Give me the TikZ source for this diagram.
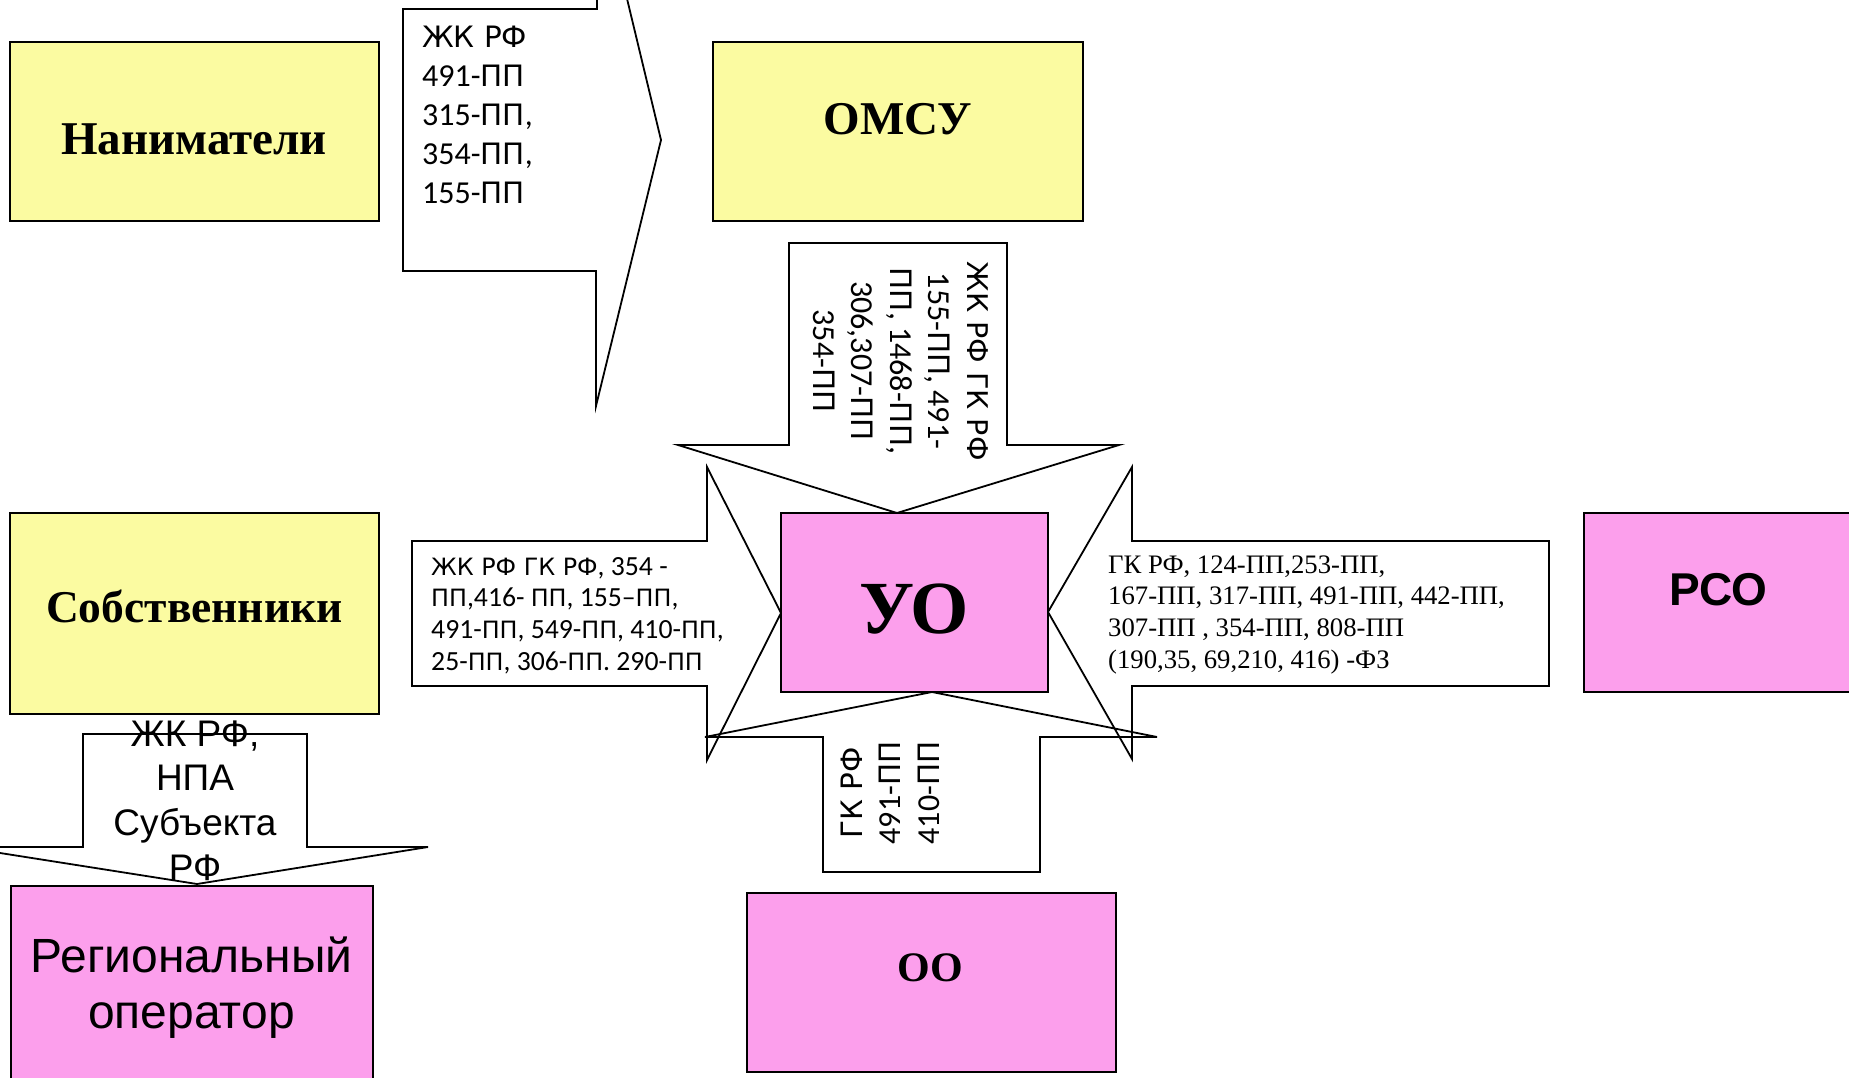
\documentclass[tikz,border=0pt]{standalone}
\usepackage{fontspec}
\setmainfont{Liberation Serif}
\newfontfamily\carl{Carlito}
\newfontfamily\dvu[Scale=0.92]{DejaVu Sans}
\newfontfamily\dvs[Scale=0.86]{DejaVu Sans}
\newfontfamily\arialf{Liberation Sans}
\newcommand\cyx[1]{{\dvu #1}}
\newcommand\cyy[1]{{\dvs #1}}
\definecolor{yel}{RGB}{251,251,161}
\definecolor{pnk}{RGB}{252,159,236}
\begin{document}
\begin{tikzpicture}[x=1pt,y=-1pt,
  ybox/.style={draw=black, line width=2.2pt, fill=yel, rectangle, inner sep=0pt},
  pbox/.style={draw=black, line width=2.2pt, fill=pnk, rectangle, inner sep=0pt},
  call/.style={draw=black, line width=1.8pt, line join=miter},
  lbl/.style={inner sep=0pt, anchor=base},
  txt/.style={inner sep=0pt}]
\useasboundingbox (0,0) rectangle (1849,1078);
\clip (0,0) rectangle (1849,1078);

% callout shapes
\draw[call] (403,9) -- (597,9) -- (597,-126) -- (661,140) -- (596,406) -- (596,271) -- (403,271) -- cycle;
\draw[call] (789,243) -- (1007,243) -- (1007,445) -- (1119,445) -- (897,513) -- (678,445) -- (789,445) -- cycle;
\draw[call] (412,541) -- (707,541) -- (707,467) -- (781,613) -- (707,760) -- (707,686) -- (412,686) -- cycle;
\draw[call] (1549,541) -- (1132,541) -- (1132,467) -- (1048,612) -- (1132,759) -- (1132,686) -- (1549,686) -- cycle;
\draw[call] (823,872) -- (1040,872) -- (1040,737) -- (1157,737) -- (932,692) -- (705,737) -- (823,737) -- cycle;
\draw[call] (83,734) -- (307,734) -- (307,847) -- (428,847) -- (197,884) -- (-38,847) -- (83,847) -- cycle;

% boxes
\node[ybox, minimum width=369pt, minimum height=179pt] (nan) at (194.5,131.5) {};
\node[ybox, minimum width=370pt, minimum height=179pt] (omsu) at (898,131.5) {};
\node[ybox, minimum width=369pt, minimum height=201pt] (sob) at (194.5,613.5) {};
\node[pbox, minimum width=267pt, minimum height=179pt] (uo) at (914.5,602.5) {};
\node[pbox, minimum width=290pt, minimum height=179pt] (rso) at (1729,602.5) {};
\node[pbox, minimum width=362pt, minimum height=214pt] (reg) at (192,993) {};
\node[pbox, minimum width=369pt, minimum height=179pt] (oo) at (931.5,982.5) {};

% box labels
\node[lbl, font=\fontsize{47}{56}\selectfont\bfseries] (nanT) at (194,155) {Наниматели};
\node[lbl, font=\fontsize{47}{56}\selectfont\bfseries] (omsuT) at (898,135) {ОМСУ};
\node[lbl, font=\fontsize{45.5}{56}\selectfont\bfseries] (sobT) at (194.5,622) {Собственники};
\node[lbl, font=\fontsize{75}{90}\selectfont\bfseries] (uoT) at (914,633) {УО};
\node[lbl, font=\fontsize{46}{55}\selectfont\arialf\bfseries] (rsoT) at (1718.5,605) {РСО};
\node[lbl, font=\fontsize{42}{50}\selectfont\bfseries] (ooT) at (930.5,981) {ОО};
\node[lbl] (regT) at (191.5,972) {\parbox[t]{360pt}{\centering\fontsize{48}{56}\selectfont\arialf Региональный\\оператор}};

% callout texts
\node[txt, anchor=base west] (t1) at (422,48) {\parbox[t]{180pt}{\raggedright\fontsize{32}{38.8}\selectfont\carl
  \cyx{ЖК РФ}\\491-\cyx{ПП}\\315-\cyx{ПП},\\354-\cyx{ПП},\\155-\cyx{ПП}}};
\node[txt, anchor=base, rotate=-90] (t2) at (967,361) {\parbox[t]{260pt}{\centering\fontsize{32}{38.5}\selectfont\carl
  {\fontsize{31}{38.5}\selectfont\cyx{ЖК РФ ГК РФ}}\\155-\cyx{ПП}, 491-\\\cyx{ПП}, 1468-\cyx{ПП},\\306,307-\cyx{ПП}\\354-\cyx{ПП}}};
\node[txt, anchor=base west] (t3) at (431,575) {\parbox[t]{320pt}{\raggedright\fontsize{27.7}{31.8}\selectfont\carl
  \cyy{ЖК РФ ГК РФ}, 354 -\\\cyy{ПП},416- \cyy{ПП}, 155–\cyy{ПП},\\491-\cyy{ПП}, 549-\cyy{ПП}, 410-\cyy{ПП},\\25-\cyy{ПП}, 306-\cyy{ПП}. 290-\cyy{ПП}}};
\node[txt, anchor=base west] (t4) at (1108,573) {\parbox[t]{440pt}{\raggedright\fontsize{26.7}{31.8}\selectfont
  ГК РФ, 124-ПП,253-ПП,\\167-ПП, 317-ПП, 491-ПП, 442-ПП,\\307-ПП , 354-ПП, 808-ПП\\(190,35, 69,210, 416) -ФЗ}};
\node[txt, anchor=base, rotate=90] (t5) at (862,793) {\parbox[t]{200pt}{\centering\fontsize{32}{38.5}\selectfont\carl
  \cyx{ГК РФ}\\491-\cyx{ПП}\\410-\cyx{ПП}}};
\node[txt, anchor=base] (t6) at (195,746) {\parbox[t]{260pt}{\centering\fontsize{37}{44.8}\selectfont\arialf
  ЖК РФ,\\НПА\\Субъекта\\РФ}};
\end{tikzpicture}
\end{document}
